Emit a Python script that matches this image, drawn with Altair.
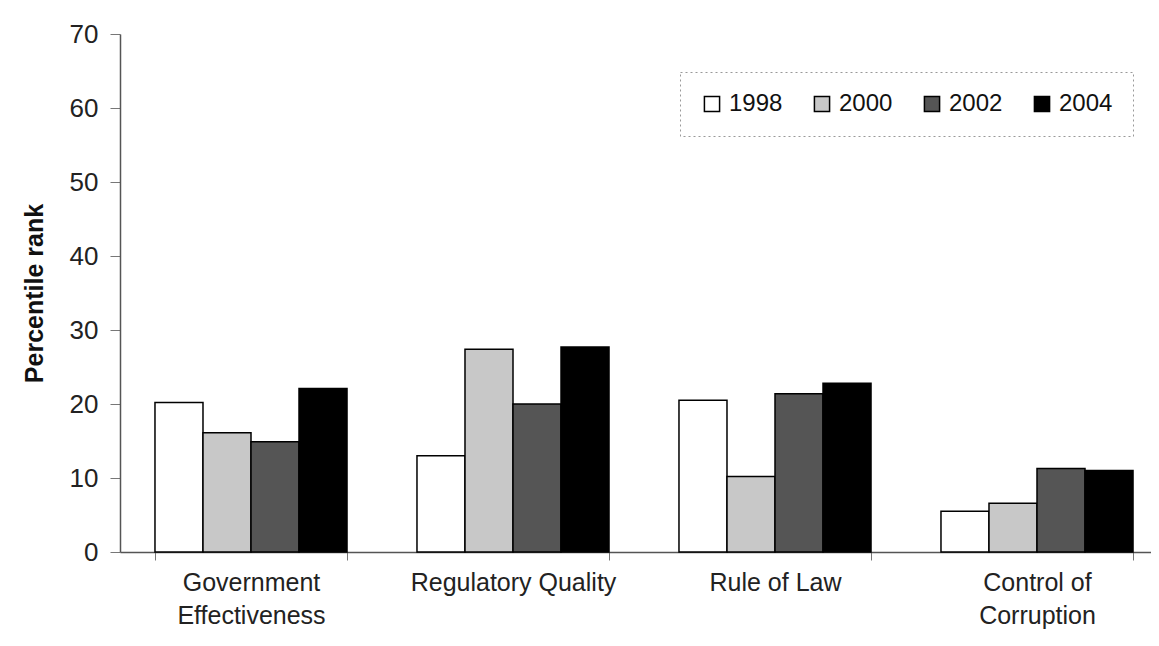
import altair as alt
import pandas as pd

categories = ["Government Effectiveness", "Regulatory Quality", "Rule of Law", "Control of Corruption"]
years = ["1998", "2000", "2002", "2004"]
v1998 = [20.2, 13.0, 20.5, 5.5]
v2000 = [16.1, 27.4, 10.2, 6.6]
v2002 = [14.9, 20.0, 21.4, 11.3]
v2004 = [22.1, 27.7, 22.8, 11.0]
series = [v1998, v2000, v2002, v2004]
colors = ["#ffffff", "#c8c8c8", "#555555", "#000000"]

rows = []
for y, vals in zip(years, series):
    for c, v in zip(categories, vals):
        rows.append({"category": c, "year": y, "value": v})
df = pd.DataFrame(rows)

font = "Liberation Sans"

label_expr = ("datum.value == 'Government Effectiveness' ? ['Government','Effectiveness'] : "
              "datum.value == 'Control of Corruption' ? ['Control of','Corruption'] : datum.value")

chart = alt.Chart(df).mark_bar(stroke="black", strokeWidth=1.5).encode(
    x=alt.X("category:N", sort=categories, title=None,
            scale=alt.Scale(paddingInner=0.267, paddingOuter=0.1335, range=[0, 1048]),
            axis=alt.Axis(labelAngle=0, labelExpr=label_expr, labelFontSize=25,
                          labelFont=font, labelColor="#222", labelLineHeight=33,
                          labelPadding=10, labelLimit=0, tickBand="extent", tickSize=8,
                          tickColor="#777", domainColor="#555", domainWidth=1.5,
                          labelBaseline="top")),
    xOffset=alt.XOffset("year:N", sort=years, scale=alt.Scale(paddingInner=0, paddingOuter=0)),
    y=alt.Y("value:Q", title="Percentile rank",
            scale=alt.Scale(domain=[0, 70], nice=False),
            axis=alt.Axis(values=[0, 10, 20, 30, 40, 50, 60, 70], grid=False,
                          labelFontSize=26, labelFont=font, labelColor="#222",
                          labelPadding=12, tickSize=10, tickColor="#777",
                          domainColor="#555", domainWidth=1.5,
                          titleFont=font, titleFontSize=25, titleFontWeight="bold",
                          titleColor="#111", titlePadding=22)),
    color=alt.Color("year:N", sort=years,
                    scale=alt.Scale(domain=years, range=colors),
                    legend=alt.Legend(title=None, orient="none", legendX=560, legendY=38,
                                      direction="horizontal", symbolType="square",
                                      symbolSize=230, symbolStrokeColor="black",
                                      symbolStrokeWidth=1.5, labelFontSize=24,
                                      labelFont=font, labelColor="#111",
                                      columnPadding=27, labelOffset=5,
                                      padding=20, strokeColor="#999",
                                      fillColor="white")),
).properties(
    width=1030, height=518,
    autosize=alt.AutoSizeParams(type="none"),
    padding={"left": 112, "top": 26, "right": 1, "bottom": 86},
).configure_view(stroke=None).configure_legend(strokeDash=[2, 3])

chart.save("out.html", embed_options={"renderer": "svg", "actions": False})
